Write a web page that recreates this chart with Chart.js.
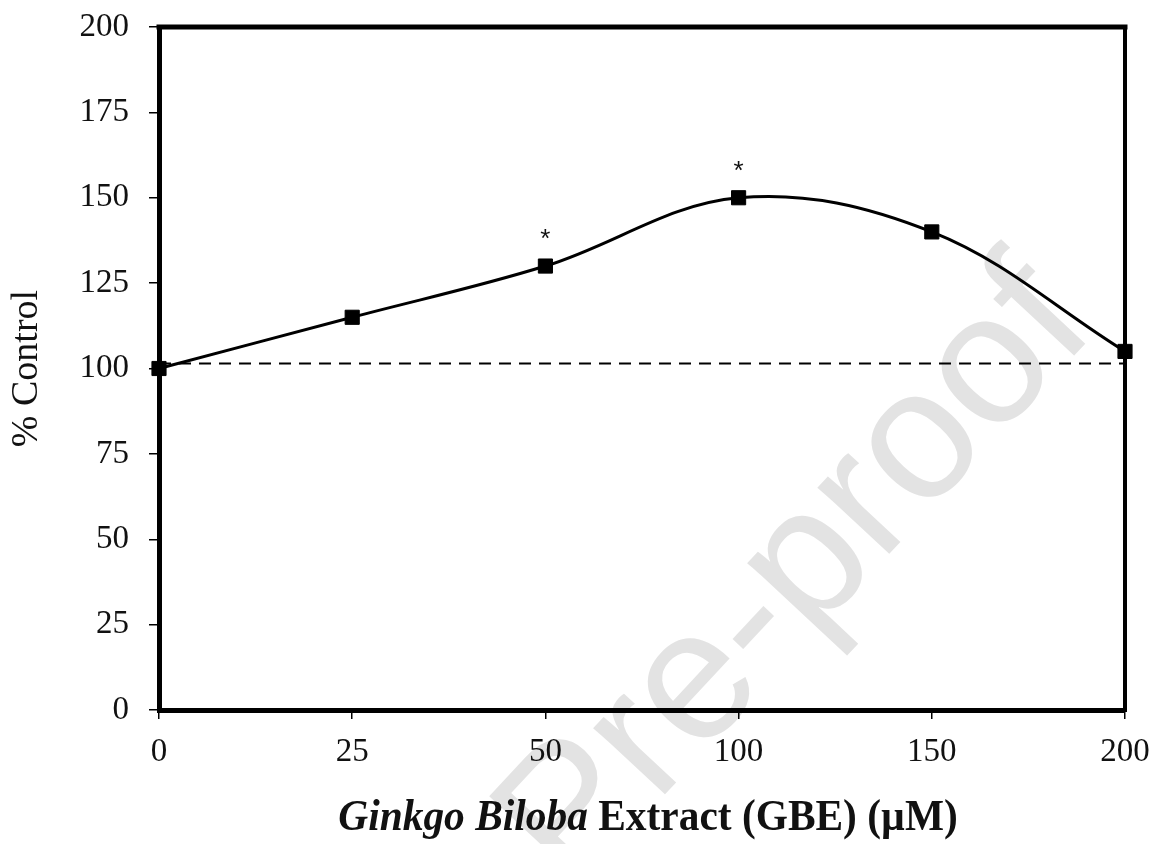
<!DOCTYPE html>
<html>
<head>
<meta charset="utf-8">
<title>GBE dose response</title>
<script src="https://cdn.jsdelivr.net/npm/chart.js@4.4.1/dist/chart.umd.min.js"></script>
<style>
  html, body { margin: 0; padding: 0; background: #ffffff; }
  #wrap { width: 1159px; height: 844px; position: relative; }
</style>
</head>
<body>
<div id="wrap"><canvas id="chart" width="1159" height="844"></canvas></div>
<script>
// GBE concentrations (µM), one category each
const doses = ['0', '25', '50', '100', '150', '200'];
// Response as % of untreated control
const percentControl = [100, 115, 130, 150, 140, 105];
// Doses marked as significantly different from control
const significant = [false, false, true, true, false, false];
// Control reference level (dashed line)
const controlLevel = [101.5, 101.5, 101.5, 101.5, 101.5, 101.5];
// Y axis range and tick step
const yRange = [0, 200];
const yStep = 25;

const SERIF = "'Liberation Serif', 'Times New Roman', serif";

// Faint diagonal "Pre-proof" stamp behind the plot
const stampPlugin = {
  id: 'stamp',
  beforeDraw(chart) {
    const ctx = chart.ctx;
    ctx.save();
    ctx.translate(835, 612);
    ctx.rotate(-47 * Math.PI / 180);
    ctx.font = "185px 'Liberation Sans', Arial, sans-serif";
    ctx.fillStyle = '#e3e3e3';
    ctx.textAlign = 'center';
    ctx.textBaseline = 'alphabetic';
    ctx.fillText('Pre-proof', 0, 0);
    ctx.restore();
  }
};

// Top and right edges of the plot frame
const framePlugin = {
  id: 'frame',
  beforeDatasetsDraw(chart) {
    const { ctx, chartArea: a } = chart;
    ctx.save();
    ctx.strokeStyle = '#000';
    ctx.lineCap = 'square';
    ctx.lineWidth = 5;
    ctx.beginPath();
    ctx.moveTo(a.left, a.top);
    ctx.lineTo(a.right, a.top);
    ctx.stroke();
    ctx.lineWidth = 4;
    ctx.beginPath();
    ctx.moveTo(a.right, a.top);
    ctx.lineTo(a.right, a.bottom);
    ctx.stroke();
    ctx.restore();
  }
};

// Asterisks above significant points
const starPlugin = {
  id: 'stars',
  afterDatasetsDraw(chart) {
    const ctx = chart.ctx;
    const meta = chart.getDatasetMeta(0);
    ctx.save();
    ctx.font = "26px 'Liberation Sans', Arial, sans-serif";
    ctx.fillStyle = '#111';
    ctx.textAlign = 'center';
    ctx.textBaseline = 'middle';
    meta.data.forEach((pt, i) => {
      if (significant[i]) ctx.fillText('*', pt.x, pt.y - 26);
    });
    ctx.restore();
  }
};

// X-axis title with the italic genus name (slightly condensed serif)
const xTitlePlugin = {
  id: 'xTitle',
  afterDraw(chart) {
    const { ctx, chartArea: a } = chart;
    const sx = 0.92;
    const parts = [
      { text: 'Ginkgo Biloba', font: `italic bold 45px ${SERIF}` },
      { text: ' Extract (GBE) (\u00B5M)', font: `bold 45px ${SERIF}` }
    ];
    ctx.save();
    let total = 0;
    parts.forEach(p => { ctx.font = p.font; p.w = ctx.measureText(p.text).width; total += p.w; });
    const cx = (a.left + a.right) / 2 + 6;
    ctx.translate(cx, 830);
    ctx.scale(sx, 1);
    let x = -total / 2;
    ctx.fillStyle = '#111';
    ctx.textBaseline = 'alphabetic';
    ctx.textAlign = 'left';
    parts.forEach(p => { ctx.font = p.font; ctx.fillText(p.text, x, 0); x += p.w; });
    ctx.restore();
  }
};

new Chart(document.getElementById('chart'), {
  type: 'line',
  data: {
    labels: doses,
    datasets: [
      {
        label: '% Control',
        data: percentControl,
        borderColor: '#000',
        backgroundColor: '#000',
        borderWidth: 3,
        tension: 0.36,
        pointStyle: 'rect',
        pointRadius: 10,
        pointBorderWidth: 1,
        pointBackgroundColor: '#000',
        pointBorderColor: '#000',
        clip: false,
        order: 1
      },
      {
        label: 'Control',
        data: controlLevel,
        borderColor: '#000',
        borderWidth: 2,
        borderDash: [12, 8],
        pointRadius: 0,
        tension: 0,
        order: 2
      }
    ]
  },
  options: {
    responsive: false,
    animation: false,
    devicePixelRatio: 1,
    layout: { padding: { top: 27, right: 34, left: 0, bottom: 0 } },
    plugins: {
      legend: { display: false },
      tooltip: { enabled: false }
    },
    scales: {
      x: {
        type: 'category',
        offset: false,
        afterFit(s) { s.height = 134; s.paddingLeft = 0; s.paddingRight = 0; },
        grid: { drawOnChartArea: false, drawTicks: true, tickLength: 9, color: '#000', lineWidth: 1.5 },
        border: { display: true, color: '#000', width: 5 },
        ticks: { font: { family: SERIF, size: 33 }, color: '#111', padding: 14, maxRotation: 0 },
        title: { display: false }
      },
      y: {
        min: yRange[0],
        max: yRange[1],
        afterFit(s) { s.width = 159; s.paddingTop = 0; s.paddingBottom = 0; },
        grid: { drawOnChartArea: false, drawTicks: true, tickLength: 10, color: '#000', lineWidth: 1.5 },
        border: { display: true, color: '#000', width: 5 },
        ticks: { stepSize: yStep, font: { family: SERIF, size: 33 }, color: '#111', padding: 20 },
        title: { display: true, text: '% Control', font: { family: SERIF, size: 38 }, color: '#111', padding: { top: 4, bottom: 0 } }
      }
    }
  },
  plugins: [stampPlugin, framePlugin, starPlugin, xTitlePlugin]
});
</script>
</body>
</html>
